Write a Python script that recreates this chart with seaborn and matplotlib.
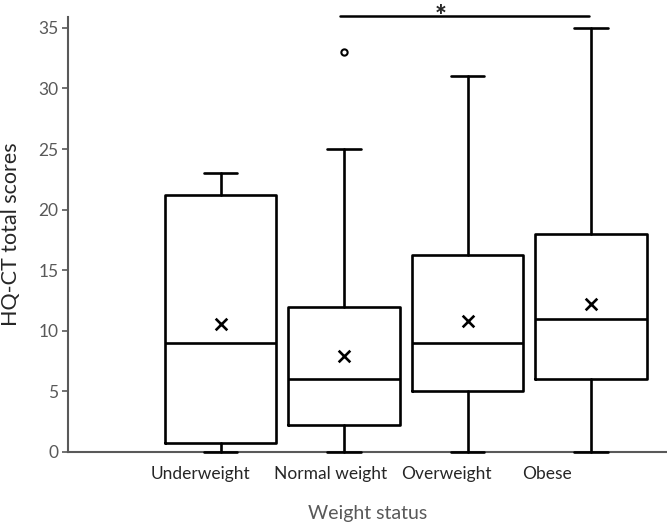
import matplotlib
matplotlib.use("Agg")
import matplotlib.pyplot as plt
import matplotlib.transforms as mtransforms
import seaborn as sns
import pandas as pd

categories = ["Underweight", "Normal weight", "Overweight", "Obese"]
whisker_low = [0, 0, 0, 0]
q1 = [0.75, 2.25, 5, 6]
median = [9, 6, 9, 11]
q3 = [21.25, 12, 16.25, 18]
whisker_high = [23, 25, 31, 35]
means = [10.6, 7.9, 10.8, 12.2]
outliers = [[], [33], [], []]
yticks = [0, 5, 10, 15, 20, 25, 30, 35]
sig_pair = (1, 3)
sig_label = "*"

sns.set_theme(style="white")
plt.rcParams["font.family"] = ["Lato", "DejaVu Sans"]

fig = plt.figure(figsize=(6.67, 5.23), dpi=100)
ax = fig.add_axes([68 / 667, 71 / 523, 1 - 68 / 667, (452 - 17) / 523])

stats = []
for i, c in enumerate(categories):
    stats.append(dict(label=c, whislo=whisker_low[i], q1=q1[i], med=median[i],
                      q3=q3[i], whishi=whisker_high[i], fliers=outliers[i],
                      mean=means[i]))
pos = list(range(len(categories)))
arts = ax.bxp(stats, positions=pos, widths=0.9, capwidths=0.27, showmeans=False,
              showfliers=True,
              boxprops=dict(color="black", linewidth=1.9),
              whiskerprops=dict(color="black", linewidth=1.9),
              capprops=dict(color="black", linewidth=1.9),
              medianprops=dict(color="black", linewidth=1.9),
              flierprops=dict(marker="o", markersize=4.5, markerfacecolor="white",
                              markeredgecolor="black", markeredgewidth=1.5))
for key, lst in arts.items():
    for a in lst:
        a.set_clip_on(False)
        a.set_zorder(4)

df = pd.DataFrame({"pos": pos, "mean": means})
sns.scatterplot(data=df, x="pos", y="mean", marker="x", s=70, color="black",
                linewidth=1.9, ax=ax, zorder=5)

ax.set_xlim(-1.235, 3.615)
ax.set_ylim(0, 35.9)
ax.set_yticks(yticks)
ax.set_xticks(pos)
ax.set_xticklabels(categories)
ax.tick_params(axis="x", length=0, labelsize=12.5, labelcolor="#262626", pad=10)
ax.tick_params(axis="y", length=4, width=1.2, color="#595959", labelsize=12.5,
               labelcolor="#595959", pad=3, left=True, direction="out")
label_shift_px = [-20, -13, -21, -44]
for lab, dx in zip(ax.get_xticklabels(), label_shift_px):
    lab.set_transform(lab.get_transform() +
                      mtransforms.ScaledTranslation(dx / 100, 0, fig.dpi_scale_trans))
for s in ["top", "right"]:
    ax.spines[s].set_visible(False)
for s in ["left", "bottom"]:
    ax.spines[s].set_color("#595959")
    ax.spines[s].set_linewidth(1.5)
    ax.spines[s].set_zorder(3)
ax.set_xlabel("Weight status", fontsize=14, color="#595959", labelpad=17)
ax.set_ylabel("HQ-CT total scores", fontsize=15.5, color="#262626", labelpad=12)

ysig = 36.0
ax.plot([pos[sig_pair[0]] - 0.03, pos[sig_pair[1]] - 0.02], [ysig, ysig],
        color="black", linewidth=1.8, clip_on=False)
ax.text((pos[sig_pair[0]] + pos[sig_pair[1]]) / 2 - 0.215, 35.2, sig_label,
        ha="center", va="baseline", fontsize=20, fontweight="black",
        clip_on=False)

fig.savefig("out.png", dpi=100)
